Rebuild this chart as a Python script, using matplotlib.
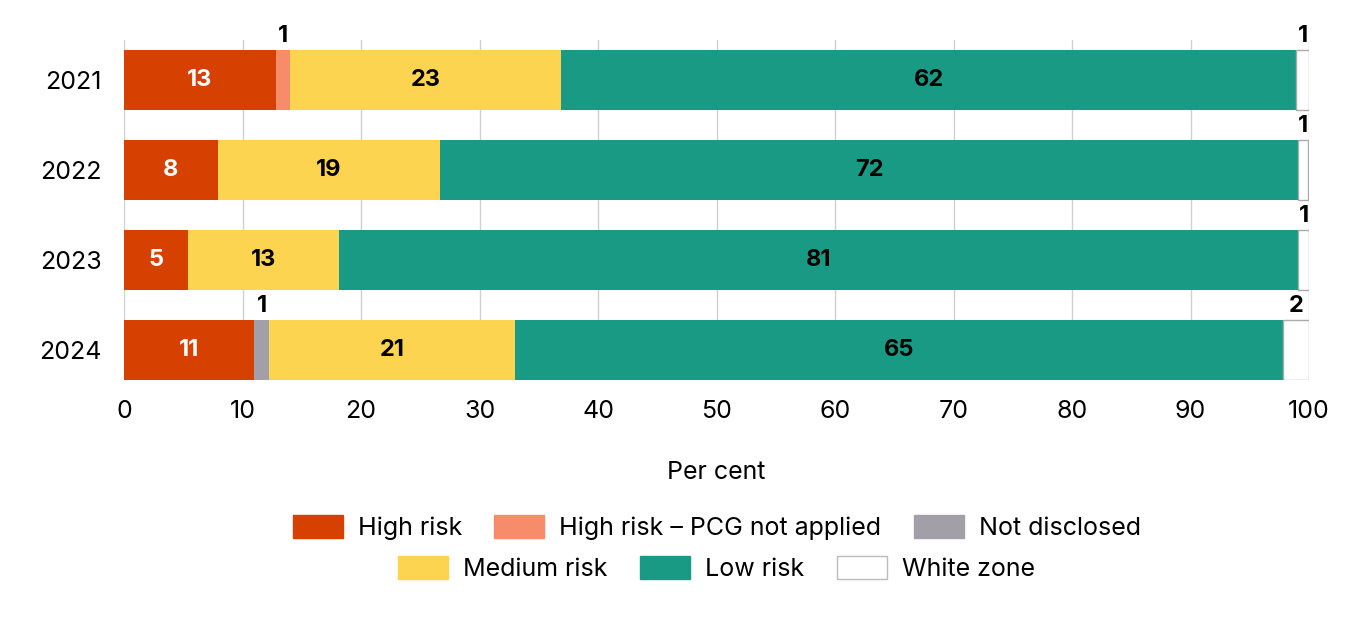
import numpy as np
import matplotlib
matplotlib.use('Agg')
import matplotlib.pyplot as plt
from matplotlib.patches import Patch

plt.rcParams['font.family'] = ['Inter', 'DejaVu Sans']

# data (per cent)
years = ['2021', '2022', '2023', '2024']
high_risk = [12.8, 7.9, 5.4, 11.0]
high_pcg = [1.2, 0, 0, 0]
not_disclosed = [0, 0, 0, 1.2]
medium_risk = [22.9, 18.8, 12.7, 20.8]
low_risk = [62.0, 72.4, 81.0, 64.8]
white_zone = [1.1, 0.8, 0.9, 2.2]

series = [
    ('High risk', high_risk, '#d64000', 'white'),
    ('High risk \u2013 PCG not applied', high_pcg, '#f78c6b', 'black'),
    ('Not disclosed', not_disclosed, '#a29fa8', 'black'),
    ('Medium risk', medium_risk, '#fdd44f', 'black'),
    ('Low risk', low_risk, '#189a84', 'black'),
    ('White zone', white_zone, '#ffffff', 'black'),
]

fig = plt.figure(figsize=(13.6, 6.2), dpi=100)
ax = fig.add_axes([0.0912, 0.387, 0.8713, 0.5484])

y = np.arange(len(years))
left = np.zeros(len(years))
h = 0.667
for name, vals, col, tcol in series:
    vals = np.array(vals, dtype=float)
    ec = '#aaaaaa' if name == 'White zone' else 'none'
    ax.barh(y, vals, left=left, height=h, color=col, edgecolor=ec,
            linewidth=1, zorder=3)
    for i, v in enumerate(vals):
        if v <= 0:
            continue
        txt = str(int(round(v)))
        if v < 3:
            ax.text(left[i] + v / 2, y[i] - h / 2 - 0.03, txt, ha='center',
                    va='bottom', fontsize=17, fontweight='bold', color='black')
        else:
            ax.text(left[i] + v / 2, y[i], txt, ha='center', va='center',
                    fontsize=17, fontweight='bold', color=tcol)
    left += vals

ax.set_xlim(0, 100)
ax.set_ylim(3 + 30 / 90, -40 / 90)
ax.set_yticks(y)
ax.set_yticklabels(years)
ax.set_xticks(np.arange(0, 101, 10))
ax.tick_params(axis='both', length=0, labelsize=18)
ax.tick_params(axis='x', pad=14)
ax.tick_params(axis='y', pad=16)
ax.grid(axis='x', color='#d0d0d0', linewidth=1, zorder=0)
for s in ax.spines.values():
    s.set_visible(False)
ax.set_xlabel('Per cent', fontsize=18, labelpad=28)

handles = [Patch(facecolor=c, edgecolor=('#bbbbbb' if n == 'White zone' else c), label=n)
           for n, _, c, _ in series]
kw = dict(loc='center', ncol=3, frameon=False, fontsize=18, handlelength=2.0,
          handleheight=1.0, columnspacing=1.3, handletextpad=0.6)
fig.legend([handles[i] for i in [0, 1, 2]], [series[i][0] for i in [0, 1, 2]],
           bbox_to_anchor=(0.527, 0.149), **kw)
fig.legend([handles[i] for i in [3, 4, 5]], [series[i][0] for i in [3, 4, 5]],
           bbox_to_anchor=(0.527, 0.083), **kw)

fig.savefig('out.png', dpi=100)
